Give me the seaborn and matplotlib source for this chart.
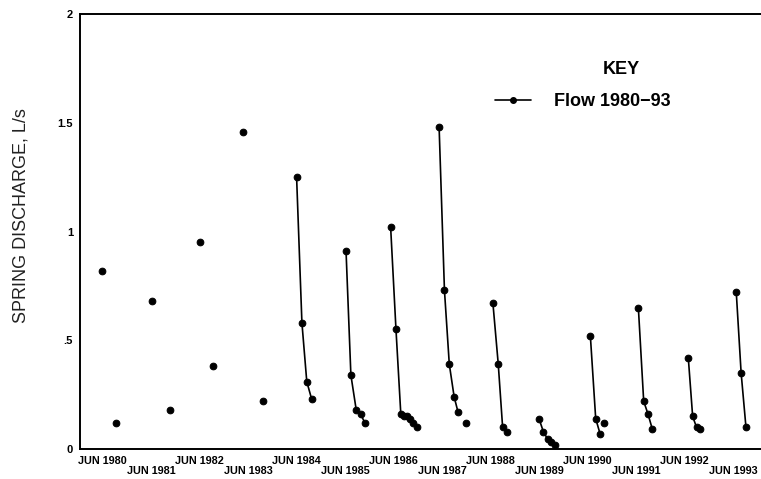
import matplotlib
matplotlib.use('Agg')
import matplotlib.pyplot as plt
import seaborn as sns
import pandas as pd
from matplotlib.lines import Line2D

# decimal-year sample dates, discharge (L/s) and the season group each point belongs to
dates = [1980.41, 1980.70, 1981.44, 1981.80, 1982.42, 1982.70, 1983.32, 1983.72,
         1984.42, 1984.53, 1984.63, 1984.73,
         1985.44, 1985.54, 1985.65, 1985.74, 1985.83,
         1986.36, 1986.47, 1986.57, 1986.63, 1986.69, 1986.76, 1986.83, 1986.91,
         1987.36, 1987.47, 1987.57, 1987.67, 1987.75, 1987.92,
         1988.47, 1988.58, 1988.67, 1988.76,
         1989.42, 1989.51, 1989.60, 1989.66, 1989.75,
         1990.48, 1990.59, 1990.68, 1990.76,
         1991.47, 1991.58, 1991.67, 1991.76,
         1992.50, 1992.59, 1992.67, 1992.75,
         1993.49, 1993.59, 1993.69]
flow = [0.82, 0.12, 0.68, 0.18, 0.95, 0.38, 1.46, 0.22,
        1.25, 0.58, 0.31, 0.23,
        0.91, 0.34, 0.18, 0.16, 0.12,
        1.02, 0.55, 0.16, 0.15, 0.15, 0.14, 0.12, 0.10,
        1.48, 0.73, 0.39, 0.24, 0.17, 0.12,
        0.67, 0.39, 0.10, 0.08,
        0.14, 0.08, 0.045, 0.03, 0.02,
        0.52, 0.14, 0.07, 0.12,
        0.65, 0.22, 0.16, 0.09,
        0.42, 0.15, 0.10, 0.09,
        0.72, 0.35, 0.10]
season = ['a80', 'b80', 'a81', 'b81', 'a82', 'b82', 'a83', 'b83',
          's84', 's84', 's84', 's84',
          's85', 's85', 's85', 's85', 's85',
          's86', 's86', 's86', 's86', 's86', 's86', 's86', 's86',
          's87', 's87', 's87', 's87', 's87', 'b87',
          's88', 's88', 's88', 's88',
          's89', 's89', 's89', 's89', 's89',
          's90', 's90', 's90', 'b90',
          's91', 's91', 's91', 's91',
          's92', 's92', 's92', 's92',
          's93', 's93', 's93']

tick_years = list(range(1980, 1994))
tick_labels = ['JUN %d' % y if (y - 1980) % 2 == 0 else '\nJUN %d' % y for y in tick_years]
y_ticks = [0, 0.5, 1, 1.5, 2]
y_labels = ['0', '.5', '1', '1.5', '2']

df = pd.DataFrame({'date': dates, 'flow': flow, 'season': season})

sns.set_style('white')
plt.rcParams['font.family'] = ['Liberation Sans', 'DejaVu Sans']
plt.rcParams['text.color'] = 'black'
plt.rcParams['axes.labelcolor'] = 'black'

fig = plt.figure(figsize=(7.61, 4.79), dpi=100)
ax = fig.add_axes([0.105, 0.0626, 0.895, 0.908])

sns.lineplot(data=df, x='date', y='flow', units='season', estimator=None,
             color='black', linewidth=1.2, marker='o', markersize=4.8,
             markeredgecolor='black', markerfacecolor='black', sort=False,
             legend=False, ax=ax)

ax.set_xlim(1979.95, 1994.0)
ax.set_ylim(0, 2)
ax.set_xticks([y + 0.42 for y in tick_years])
ax.set_xticklabels(tick_labels, fontsize=7.8, fontweight='bold', linespacing=1.0)
ax.set_yticks(y_ticks)
ax.set_yticklabels(y_labels, fontsize=8, fontweight='bold')
ax.tick_params(axis='both', direction='in', length=3, width=0.8, pad=5, colors='black')
ax.set_xlabel('')
ax.set_ylabel('SPRING DISCHARGE, L/s', fontsize=13, color='#222222')
ax.yaxis.set_label_coords(-0.074, 0.536)

for side in ['left', 'bottom', 'top']:
    ax.spines[side].set_linewidth(1.4)
    ax.spines[side].set_color('black')
ax.spines['right'].set_visible(False)

handle = Line2D([], [], color='black', linewidth=1.2, marker='o', markersize=4)
leg = ax.legend([handle], ['Flow 1980\u221293'], loc='upper left',
                bbox_to_anchor=(0.585, 0.855), frameon=False, handlelength=2.0,
                handletextpad=1.3, prop={'size': 13, 'weight': 'bold'},
                labelcolor='black')
fig.text(0.817, 0.855, 'KEY', fontsize=13, fontweight='bold', ha='center', va='center',
         color='black')

fig.savefig('out.png', dpi=100)
